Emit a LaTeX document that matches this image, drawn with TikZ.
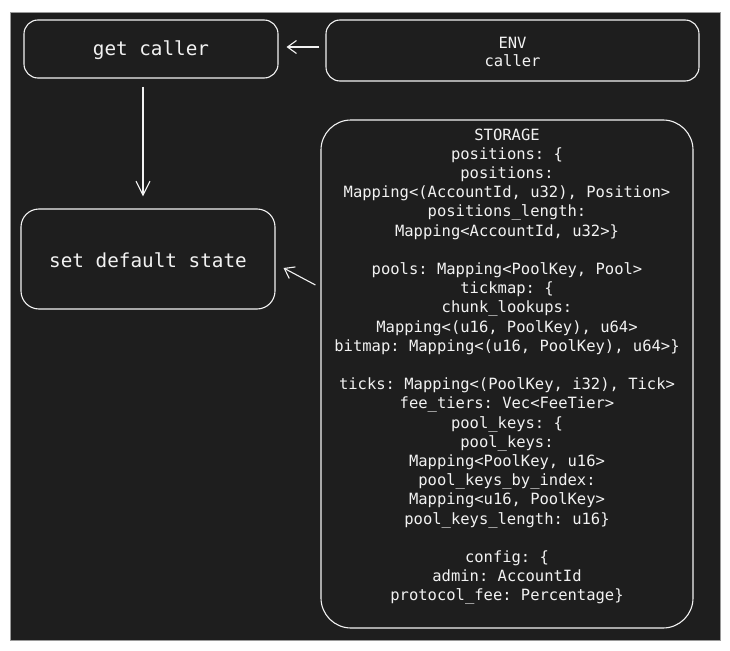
\documentclass[tikz,border=0pt]{standalone}
\usepackage{fontspec}
\setmonofont{DejaVu Sans Mono}
\usetikzlibrary{arrows.meta}
\definecolor{bgdark}{HTML}{1E1E1E}
\definecolor{ink}{HTML}{F2F2F2}
\definecolor{framegray}{HTML}{9A9A9A}
\tikzset{
  box/.style={draw=ink, line width=1.1pt, rounded corners=14pt, inner sep=0pt},
  bigbox/.style={draw=ink, line width=1.1pt, rounded corners=30pt, inner sep=0pt},
  bigtxt/.style={text=ink, font=\ttfamily\fontsize{19.3}{23}\selectfont},
  smalltxt/.style={text=ink, font=\ttfamily\fontsize{15.5}{19.2}\selectfont, align=center, inner sep=0pt},
  arr/.style={draw=ink, line width=1.1pt, -{Straight Barb[length=9pt,width=13pt,line width=1.1pt]}},
  bigarr/.style={draw=ink, line width=1.1pt, -{Straight Barb[length=14pt,width=14pt,line width=1.1pt]}},
}
\begin{document}
\begin{tikzpicture}[x=1pt,y=-1pt]
\useasboundingbox (0,0) rectangle (730,650);
\fill[white] (0,0) rectangle (730,650);
\filldraw[fill=bgdark, draw=framegray, line width=0.8pt] (10,12) rectangle (720,640);

\node[box, minimum width=254pt, minimum height=58pt] (getcaller) at (151,49) {};
\node[bigtxt] (getcallertxt) at (151,50) {get caller};

\node[box, minimum width=373pt, minimum height=61pt] (env) at (512.5,50.5) {};
\node[smalltxt, font=\ttfamily\fontsize{15.5}{18}\selectfont] (envtxt) at (512.5,52) {ENV\\caller};

\node[box, rounded corners=18pt, minimum width=254pt, minimum height=100pt] (setdefault) at (148,259) {};
\node[bigtxt] (setdefaulttxt) at (148,260) {set default state};

\node[bigbox, minimum width=372pt, minimum height=508pt] (storage) at (507,374) {};
\node[smalltxt] (storagetxt) at (507,366.5) {STORAGE\\
positions: \{\\
positions:\\
Mapping<(AccountId, u32), Position>\\
positions\_length:\\
Mapping<AccountId, u32>\}\\
\mbox{}\\
pools: Mapping<PoolKey, Pool>\\
tickmap: \{\\
chunk\_lookups:\\
Mapping<(u16, PoolKey), u64>\\
bitmap: Mapping<(u16, PoolKey), u64>\}\\
\mbox{}\\
ticks: Mapping<(PoolKey, i32), Tick>\\
fee\_tiers: Vec<FeeTier>\\
pool\_keys: \{\\
pool\_keys:\\
Mapping<PoolKey, u16>\\
pool\_keys\_by\_index:\\
Mapping<u16, PoolKey>\\
pool\_keys\_length: u16\}\\
\mbox{}\\
config: \{\\
admin: AccountId\\
protocol\_fee: Percentage\}};

\draw[arr] ([xshift=-6pt,yshift=3.5pt]env.west) -- ([xshift=8pt,yshift=2pt]getcaller.east);
\draw[bigarr] ([xshift=-8pt,yshift=-8pt]getcaller.south) -- ([xshift=-5pt,yshift=12pt]setdefault.north);
\draw[arr] ([xshift=-5pt,yshift=89pt]storage.west) -- ([xshift=8pt,yshift=-9pt]setdefault.east);
\end{tikzpicture}
\end{document}
